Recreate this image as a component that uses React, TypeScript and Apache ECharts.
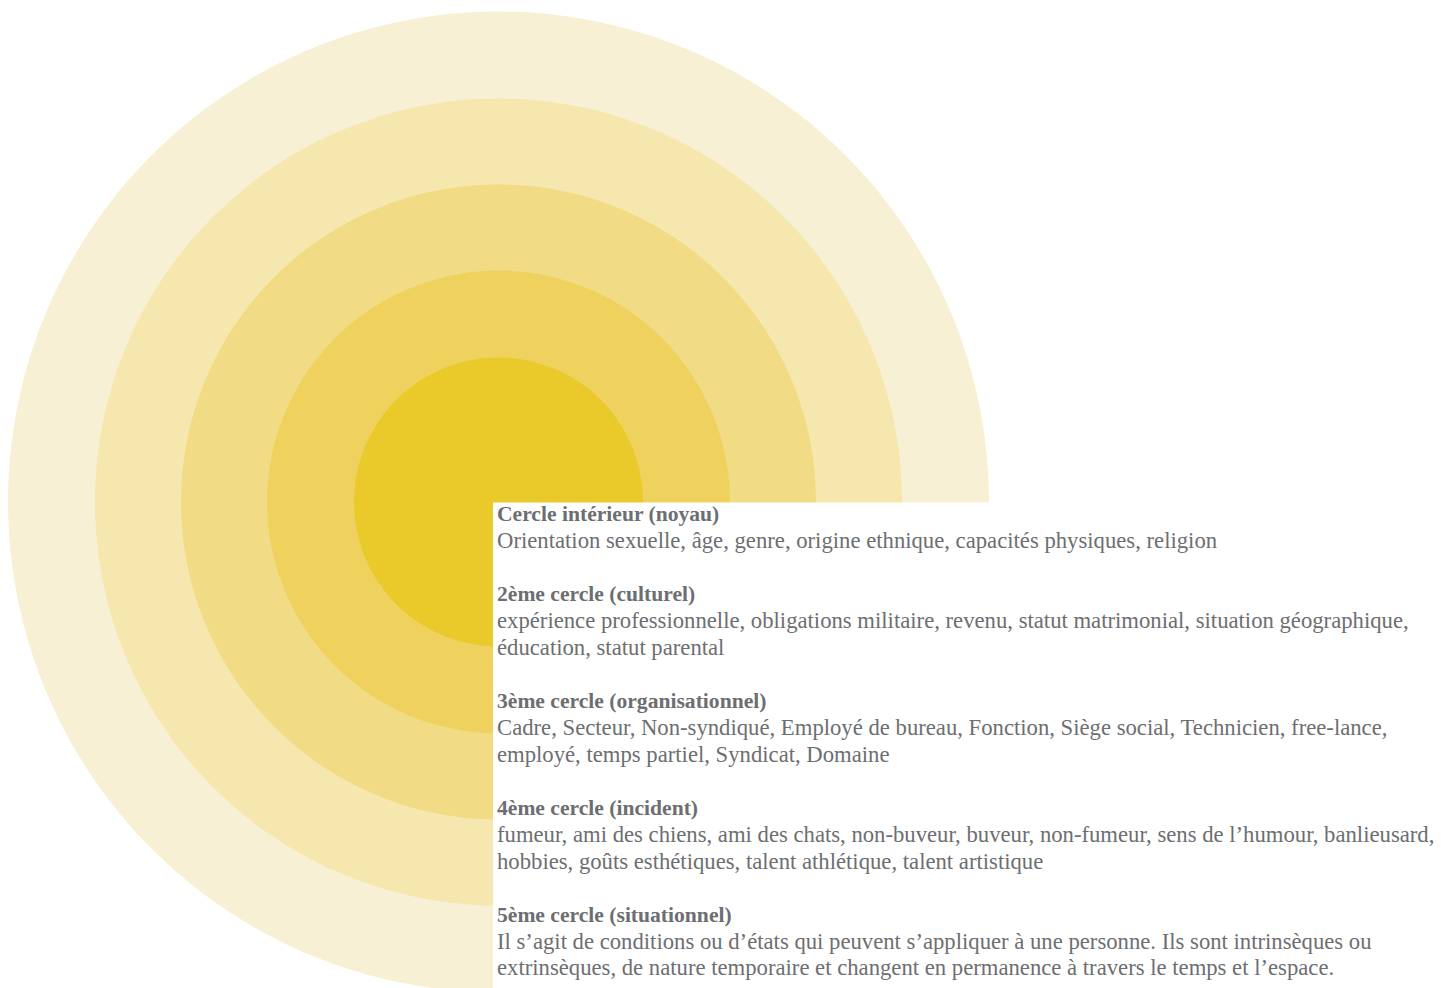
import React, { useEffect, useRef } from "react";
import * as echarts from "echarts";

// Ring radii (outer edge, px) from the innermost circle to the outermost
const ringNames = ["Cercle intérieur", "2ème cercle", "3ème cercle", "4ème cercle", "5ème cercle"];
const ringRadii = [144.5, 231.5, 317.5, 403.5, 490.5];
const ringColors = ["#EAC92B", "#EFD25E", "#F1DC85", "#F5E7AD", "#F8F0D4"];

// Legend texts
const sectionTitles = [
  "Cercle intérieur (noyau)",
  "2ème cercle (culturel)",
  "3ème cercle (organisationnel)",
  "4ème cercle (incident)",
  "5ème cercle (situationnel)",
];
const sectionLines = [
  ["Orientation sexuelle, âge, genre, origine ethnique, capacités physiques, religion"],
  [
    "expérience professionnelle, obligations militaire, revenu, statut matrimonial, situation géographique,",
    "éducation, statut parental",
  ],
  [
    "Cadre, Secteur, Non-syndiqué, Employé de bureau, Fonction, Siège social, Technicien, free-lance,",
    "employé, temps partiel, Syndicat, Domaine",
  ],
  [
    "fumeur, ami des chiens, ami des chats, non-buveur, buveur, non-fumeur, sens de l’humour, banlieusard,",
    "hobbies, goûts esthétiques, talent athlétique, talent artistique",
  ],
  [
    "Il s’agit de conditions ou d’états qui peuvent s’appliquer à une personne. Ils sont intrinsèques ou",
    "extrinsèques, de nature temporaire et changent en permanence à travers le temps et l’espace.",
  ],
];

export default function App() {
  const ref = useRef<HTMLDivElement>(null);
  useEffect(() => {
    if (!ref.current) return;
    const chart = echarts.init(ref.current, undefined, { renderer: "svg" });
    const cx = 490.5;
    const cy = 494;
    const series: any[] = [];
    for (let i = ringRadii.length - 1; i >= 0; i--) {
      series.push({
        type: "pie",
        name: ringNames[i],
        center: [cx, cy],
        radius: [0, ringRadii[i]],
        silent: true,
        z: 2 + (ringRadii.length - i),
        label: { show: false },
        labelLine: { show: false },
        itemStyle: { color: ringColors[i], borderWidth: 0 },
        data: [{ name: ringNames[i], value: 1 }],
      });
    }
    const font = "'Liberation Serif', 'Times New Roman', serif";
    const textColor = "#6d6e71";
    const lineH = 26.7;
    const textX = 489;
    let y = 506;
    const texts: any[] = [];
    sectionTitles.forEach((t, si) => {
      texts.push({
        type: "text",
        x: textX,
        y,
        z: 100,
        style: {
          text: t,
          fill: textColor,
          font: `bold 21.6px ${font}`,
          textVerticalAlign: "middle",
        },
      });
      y += lineH;
      sectionLines[si].forEach((l) => {
        texts.push({
          type: "text",
          x: textX,
          y,
          z: 100,
          style: {
            text: l,
            fill: textColor,
            font: `22.7px ${font}`,
            textVerticalAlign: "middle",
          },
        });
        y += lineH;
      });
      y += lineH;
    });
    chart.setOption({
      animation: false,
      backgroundColor: "#ffffff",
      series,
      graphic: [
        {
          type: "rect",
          z: 50,
          shape: { x: 485, y: 494.5, width: 1000, height: 600 },
          style: { fill: "#ffffff" },
          silent: true,
        },
        ...texts,
      ],
    });
    return () => chart.dispose();
  }, []);
  return <div ref={ref} style={{ width: 1437, height: 980 }} />;
}
